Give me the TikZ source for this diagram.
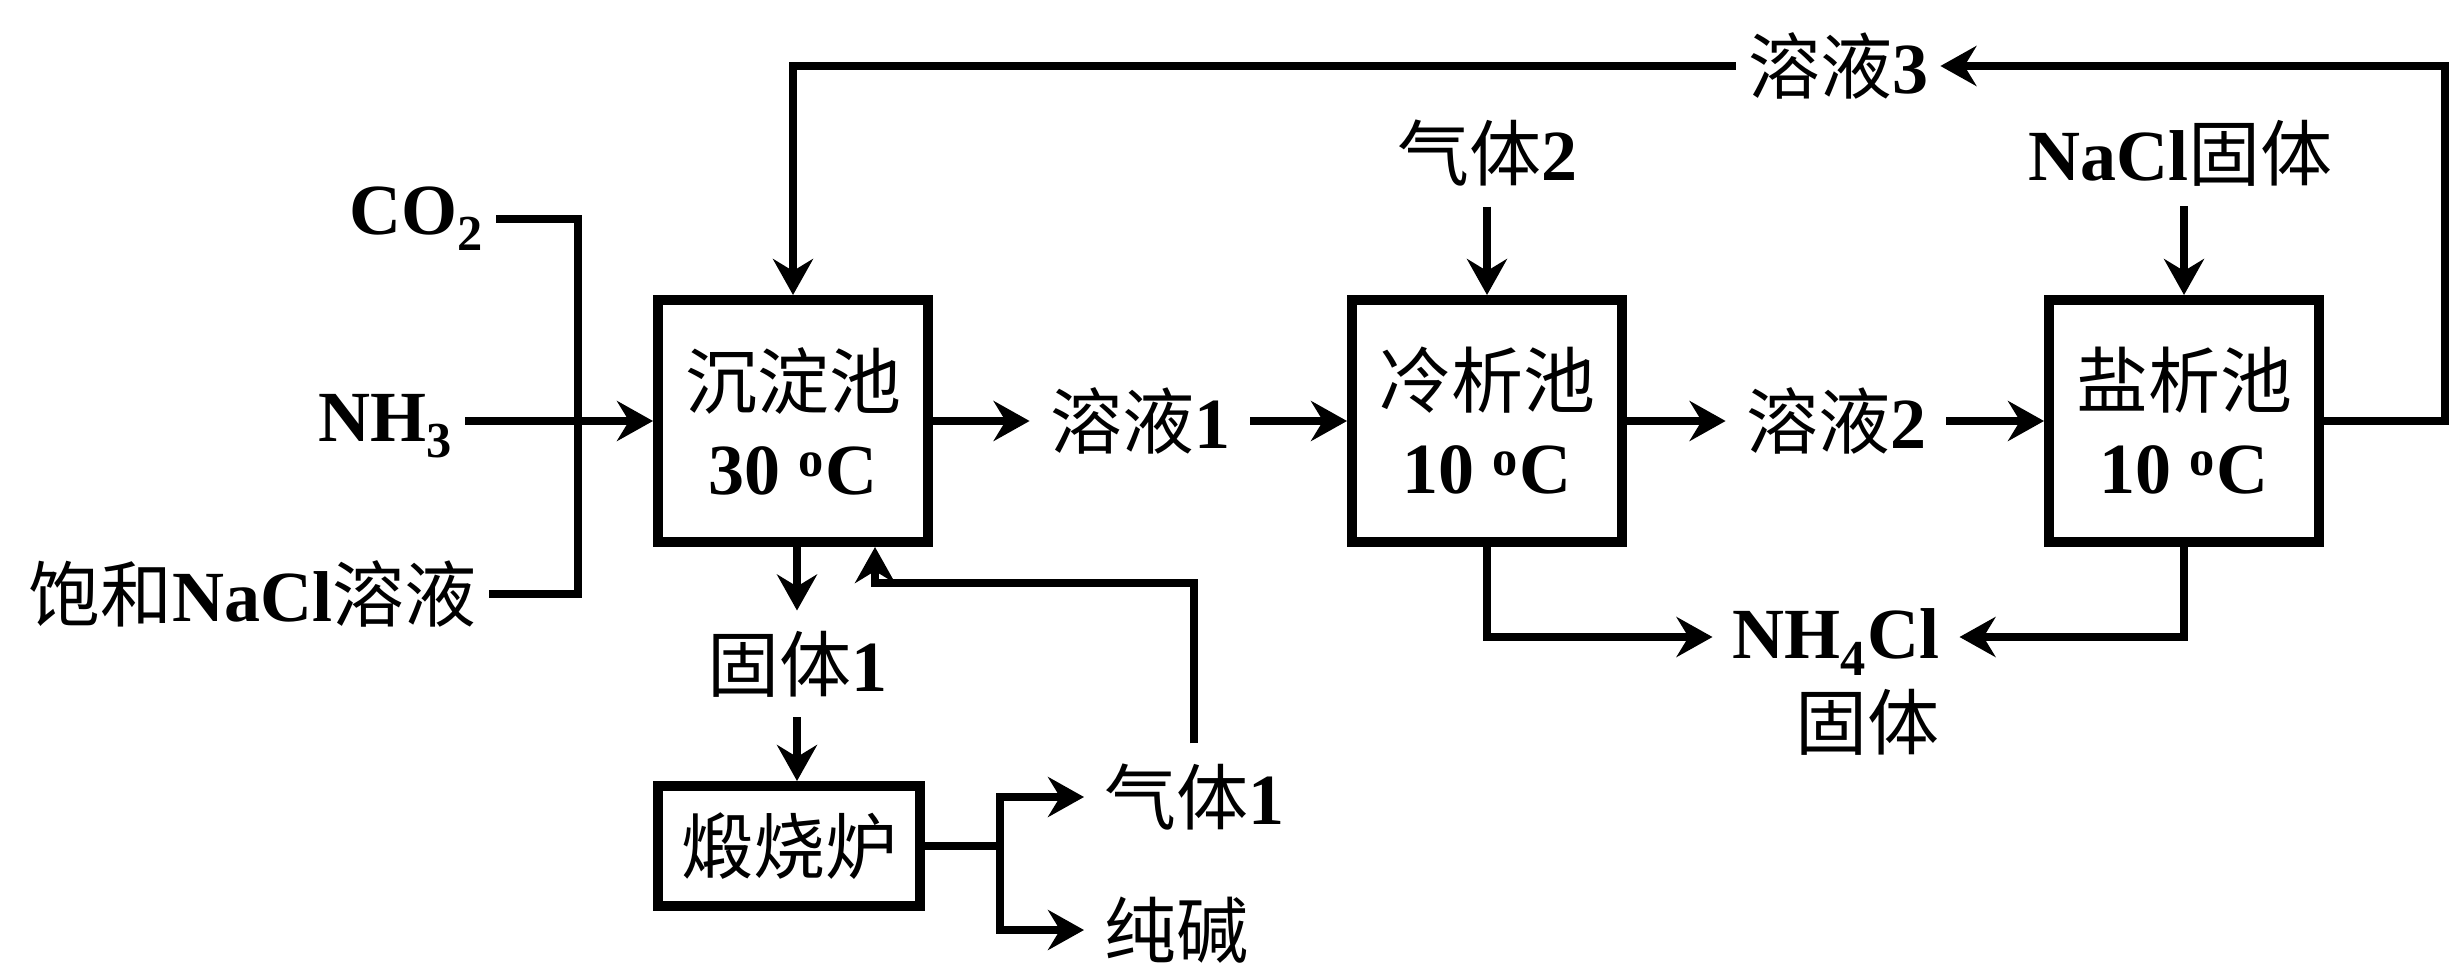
\documentclass[tikz,border=0pt]{standalone}
\usepackage{fontspec}
\setmainfont{Liberation Serif}
\newfontfamily\cjk{Noto Sans CJK SC}
\newcommand\zhs[1]{{\cjk\mdseries #1}}
\usetikzlibrary{arrows.meta,calc}
\begin{document}
\begin{tikzpicture}[x=0.5pt,y=-0.5pt,
  txt/.style={font=\bfseries\fontsize{36}{43}\selectfont, inner sep=10pt, align=center},
  box/.style={txt, draw, line width=5pt, minimum width=135pt, minimum height=121pt, inner sep=2pt},
  conn/.style={line width=4pt},
  arr/.style={conn, -{Stealth[length=18pt,width=20pt,inset=6pt]}}]
\useasboundingbox (0,0) rectangle (2450,964);
% boxes
\node[box] (A) at (793,421) {\zhs{沉淀池}\\30 \textsuperscript{o}C};
\node[box] (B) at (1487,421) {\zhs{冷析池}\\10 \textsuperscript{o}C};
\node[box] (C) at (2184,421) {\zhs{盐析池}\\10 \textsuperscript{o}C};
\node[box, minimum width=131pt, minimum height=60pt] (D) at (789,846) {\zhs{煅烧炉}};
% labels
\node[txt, inner sep=6pt, anchor=east] (co2) at (496,219) {CO\textsubscript{2}};
\node[txt, inner sep=6pt, anchor=east] (nh3) at (465,426) {NH\textsubscript{3}};
\node[txt, inner sep=6pt, anchor=east] (nacl) at (489,594) {\zhs{饱和}NaCl\zhs{溶液}};
\node[txt] (s1) at (1140,421) {\zhs{溶液}1};
\node[txt] (s2) at (1836,421) {\zhs{溶液}2};
\node[txt, inner sep=6pt] (s3) at (1838,66) {\zhs{溶液}3};
\node[txt] (g2) at (1487,153) {\zhs{气体}2};
\node[txt] (nacls) at (2180,153) {NaCl\zhs{固体}};
\node[txt] (nh4) at (1836,642) {NH\textsubscript{4}Cl};
\node[txt] (nh4b) at (1867,722) {\zhs{固体}};
\node[txt] (gt1) at (797,664) {\zhs{固体}1};
\node[txt, anchor=west] (g1) at (1084,797) {\zhs{气体}1};
\node[txt, anchor=west] (cj) at (1084,930) {\zhs{纯碱}};
% junctions
\coordinate (j) at (578,421);
\coordinate (r) at (2445,421);
\coordinate (Aup) at ($(A.south)+(82,0)$);
\coordinate (dj) at ($(D.east)+(75,0)$);
\coordinate (nhl) at (1492,637);
\coordinate (nhr) at (2187,637);
% connectors
\draw[conn] (co2.east) -| (j);
\draw[conn] (nacl.east) -| (j);
\draw[arr] (A.west -| nh3.east) -- (A.west);
\draw[arr] (A.east) -- (A.east -| s1.west);
\draw[arr] (B.west -| s1.east) -- (B.west);
\draw[arr] (B.east) -- (B.east -| s2.west);
\draw[arr] (C.west -| s2.east) -- (C.west);
\draw[arr] (C.east) -- (r) |- (s3.east);
\draw[arr] (s3.west) -| (A.north);
\draw[arr] (g2.south) -- (B.north);
\draw[arr] (nacls.south -| C.north) -- (C.north);
\draw[arr] (B.south) -- (B.south |- nhl) -- (nhl -| nh4.west);
\draw[arr] (C.south) -- (C.south |- nhr) -- (nhr -| nh4.east);
\draw[arr] (A.south -| gt1) -- (gt1.north);
\draw[arr] (gt1.south) -- (gt1.south |- D.north);
\draw[arr] (g1.north) |- ($(Aup)+(0,36)$) -- (Aup);
\draw[conn] (D.east) -- (dj);
\draw[arr] (dj) |- (g1.west);
\draw[arr] (dj) |- (cj.west);
\end{tikzpicture}
\end{document}
